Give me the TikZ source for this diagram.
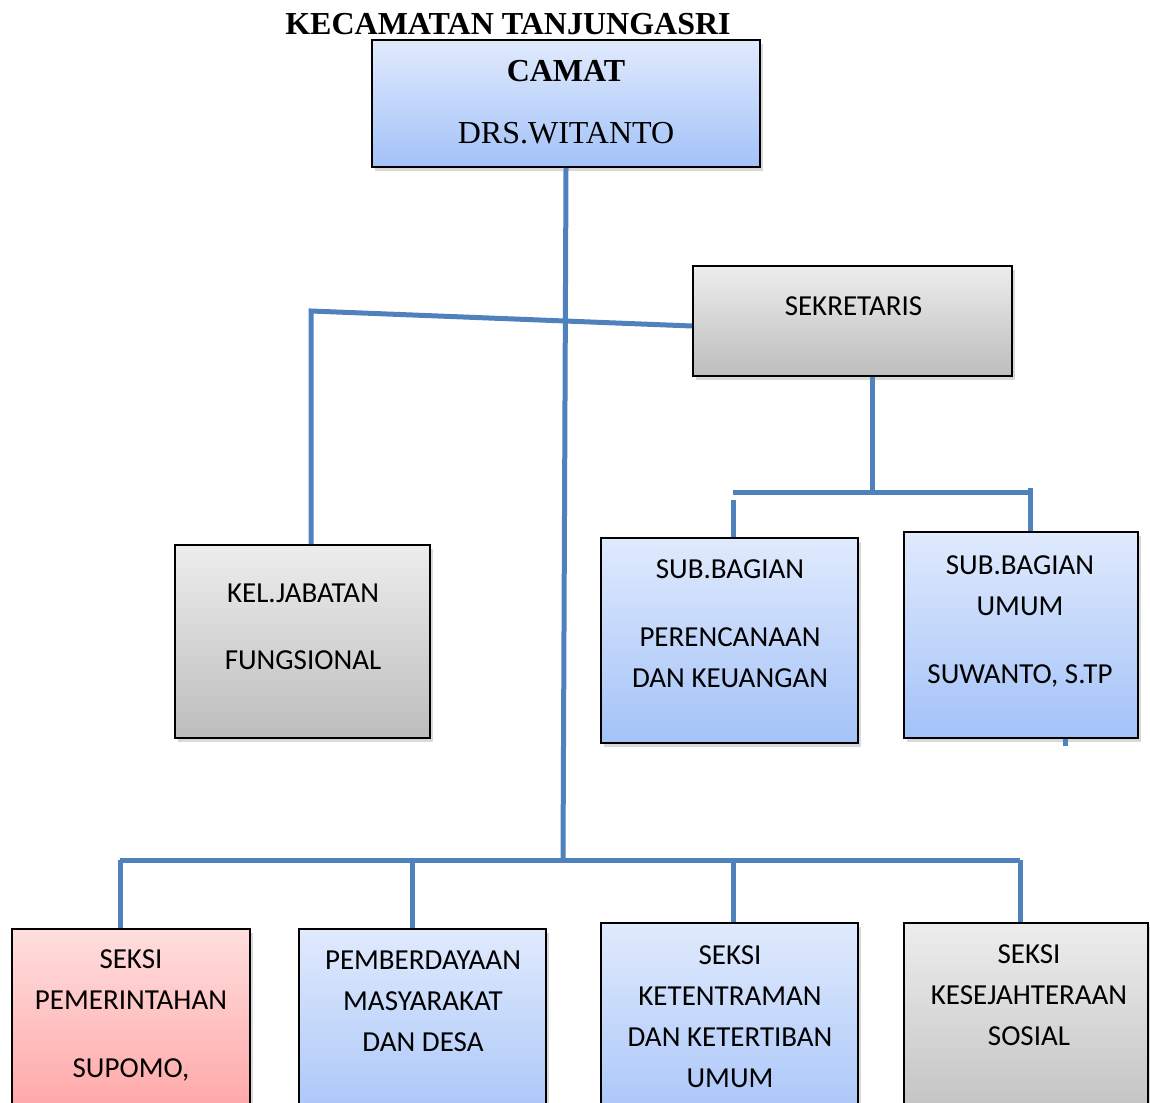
\documentclass[tikz,border=0pt]{standalone}
\usepackage{fontspec}
\setmainfont{Liberation Serif}
\newfontfamily\boxfont{Carlito}
\usetikzlibrary{shadows}
\definecolor{linkblue}{HTML}{4F81BD}
\definecolor{bluetop}{HTML}{E0EAFD}
\definecolor{bluebottom}{HTML}{A3C2F8}
\definecolor{graytop}{HTML}{EDEDED}
\definecolor{graybottom}{HTML}{BDBDBD}
\definecolor{redtop}{HTML}{FFDEDE}
\definecolor{redbottom}{HTML}{FF9E9E}
\newcommand{\busy}{860}
\newcommand{\subbusy}{492}

\begin{document}
\begin{tikzpicture}[x=0.5pt, y=-0.5pt,
    orgbox/.style={draw=black, line width=1pt, inner sep=0pt,
        drop shadow={opacity=0.3, shadow xshift=1.5pt, shadow yshift=-2pt}},
    bluebox/.style={orgbox, top color=bluetop, bottom color=bluebottom},
    graybox/.style={orgbox, top color=graytop, bottom color=graybottom},
    redbox/.style={orgbox, top color=redtop, bottom color=redbottom},
    boxtext/.style={font=\boxfont\fontsize{14.5}{20.5}\selectfont, align=center, anchor=base, inner sep=0pt},
    link/.style={draw=linkblue, line width=2.5pt}]
    \useasboundingbox (0,0) rectangle (1150,1102);
    \clip (0,0) rectangle (1150,1102);

    % title
    \node [font=\bfseries\fontsize{16}{19}\selectfont, anchor=base, inner sep=0pt] (title) at (508,35) {KECAMATAN TANJUNGASRI};

    % boxes
    \node [bluebox, minimum width=194pt, minimum height=63.5pt] (camat) at (566,103.5) {};
    \node [graybox, minimum width=159.5pt, minimum height=55pt] (sek) at (852.5,321) {};
    \node [graybox, minimum width=127.5pt, minimum height=96.5pt] (kel) at (302.5,641.5) {};
    \node [bluebox, minimum width=128.5pt, minimum height=102.5pt] (subren) at (729.5,640.5) {};
    \node [bluebox, minimum width=117pt, minimum height=103pt] (subum) at (1021,635) {};
    \node [redbox, minimum width=119pt, minimum height=105.5pt] (pem) at (131,1034.5) {};
    \node [bluebox, minimum width=123.5pt, minimum height=105.5pt] (pmd) at (422.5,1034.5) {};
    \node [bluebox, minimum width=128.5pt, minimum height=108.5pt] (trantib) at (729.5,1031.5) {};
    \node [graybox, minimum width=122pt, minimum height=108.5pt] (kesos) at (1026,1031.5) {};

    % labels (placed by the baseline of the last line)
    \node [font=\fontsize{16}{31}\selectfont, align=center, anchor=base, inner sep=0pt] (camattext) at (566,143) {\textbf{CAMAT}\\DRS.WITANTO};
    \node [boxtext] (sektext) at (853.5,315) {SEKRETARIS};
    \node [boxtext] (keltext) at (303,669) {KEL.JABATAN\\[13pt]FUNGSIONAL};
    \node [boxtext] (subrentext) at (730,687) {SUB.BAGIAN\\[13.5pt]PERENCANAAN\\DAN KEUANGAN};
    \node [boxtext] (subumtext) at (1020,683) {SUB.BAGIAN\\UMUM\\[13.5pt]SUWANTO, S.TP};
    \node [boxtext] (pemtext) at (131,1077) {SEKSI\\PEMERINTAHAN\\[13.5pt]SUPOMO,};
    \node [boxtext] (pmdtext) at (423,1051) {PEMBERDAYAAN\\MASYARAKAT\\DAN DESA};
    \node [boxtext] (trantibtext) at (730,1087) {SEKSI\\KETENTRAMAN\\DAN KETERTIBAN\\UMUM};
    \node [boxtext] (kesostext) at (1029,1045) {SEKSI\\KESEJAHTERAAN\\SOSIAL};

    % camat down to the seksi bus
    \coordinate (busmid) at (563,\busy);
    \coordinate (busleft) at (120,\busy);
    \coordinate (busright) at (1020,\busy);
    \draw [link] (camat.south) -- (busmid);
    \draw [link] (busleft) -- (busright);
    \foreach \x/\n in {120/pem, 412/pmd, 733/trantib, 1020/kesos} {
        \coordinate (drop) at (\x,\busy);
        \draw [link] (drop) -- (drop |- \n.north);
    }

    % sekretaris and kel. jabatan
    \coordinate (kelup) at (311,311);
    \draw [link] ([yshift=-2.5pt]sek.west) -- (kelup) -- (kelup |- kel.north);

    % sekretaris down to the sub bagian bus
    \coordinate (sekdown) at (872,\subbusy);
    \coordinate (subbusleft) at (733,\subbusy);
    \coordinate (subbusright) at (1030,\subbusy);
    \draw [link] (sekdown |- sek.south) -- (sekdown);
    \draw [link] (subbusleft) -- (subbusright);
    \coordinate (renup) at (733,500);
    \coordinate (umup) at (1030,488);
    \draw [link] (renup) -- (renup |- subren.north);
    \draw [link] (umup) -- (umup |- subum.north);
    \coordinate (umstub) at (1065,746);
    \draw [link] (umstub |- subum.south) -- (umstub);
\end{tikzpicture}
\end{document}
